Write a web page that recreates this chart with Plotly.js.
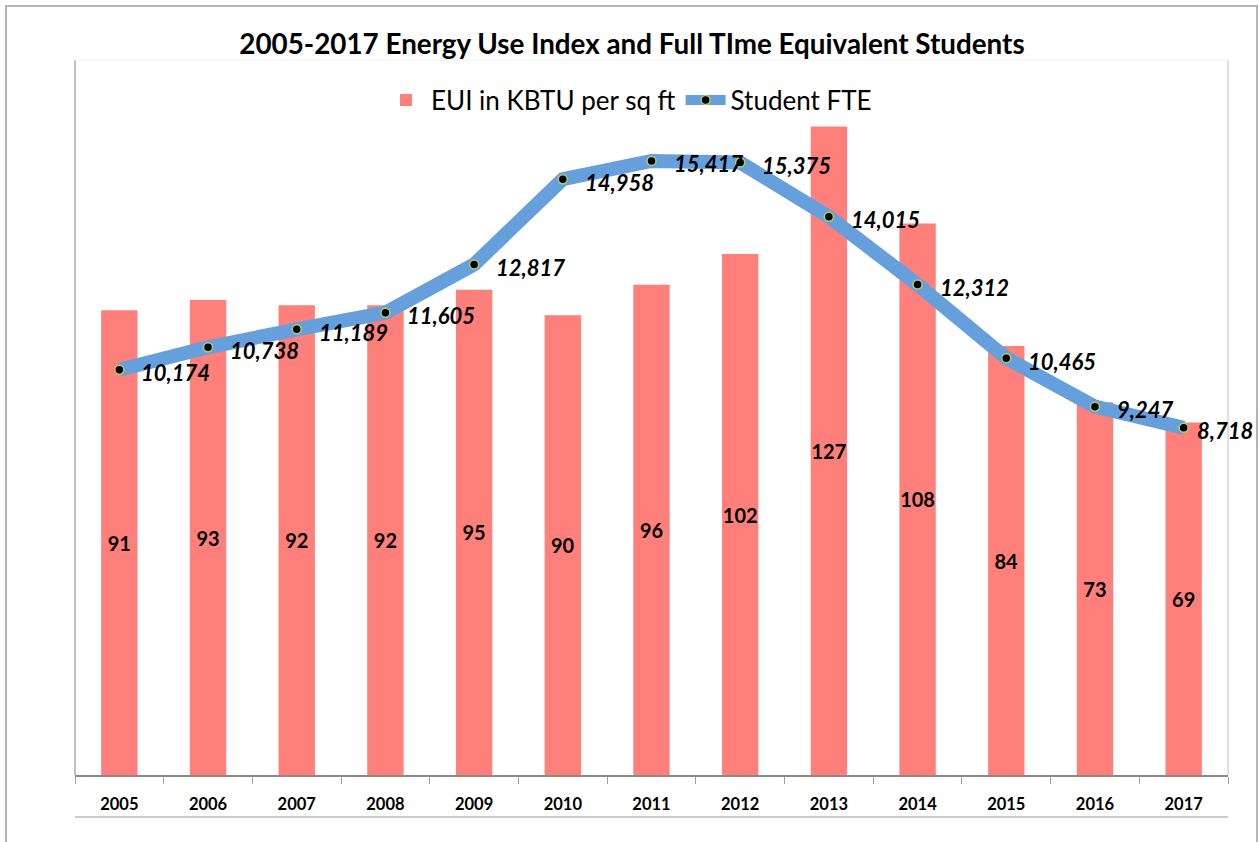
<!DOCTYPE html>
<html>
<head>
<meta charset="utf-8">
<script src="https://cdn.plot.ly/plotly-3.0.1.min.js"></script>
<style>
  html, body { margin: 0; padding: 0; background: #fff; }
  #wrap { position: relative; width: 1260px; height: 842px; overflow: hidden; }
  #chart { position: absolute; left: 0; top: 0; width: 1260px; height: 842px; }
  #frame { position: absolute; left: 5px; top: 5px; width: 1249px; height: 860px;
           border: 2px solid #b4b4b4; pointer-events: none; }
</style>
</head>
<body>
<div id="wrap">
  <div id="chart"></div>
  <div id="frame"></div>
</div>
<script>
const years = ['2005','2006','2007','2008','2009','2010','2011','2012','2013','2014','2015','2016','2017'];
const euiValues = [91, 93, 92, 92, 95, 90, 96, 102, 127, 108, 84, 73, 69];
const fteValues = [10174, 10738, 11189, 11605, 12817, 14958, 15417, 15375, 14015, 12312, 10465, 9247, 8718];
const euiName = 'EUI in KBTU per sq ft';
const fteName = 'Student FTE';
const chartTitle = '2005-2017 Energy Use Index and Full TIme Equivalent Students';

const FONT = 'Lato, "Open Sans", "Liberation Sans", sans-serif';

const bars = {
  type: 'bar',
  name: euiName,
  x: years,
  y: euiValues,
  width: 0.41,
  marker: { color: '#FF7F7B' },
  text: euiValues.map(String),
  textposition: 'inside',
  insidetextanchor: 'middle',
  textangle: 0,
  constraintext: 'none',
  textfont: { family: FONT, size: 20, color: '#000', weight: 'bold' },
  hoverinfo: 'skip'
};

const line = {
  type: 'scatter',
  mode: 'lines+markers',
  name: fteName,
  x: years,
  y: fteValues,
  yaxis: 'y2',
  line: { color: '#65A0DC', width: 14 },
  marker: { color: '#000', size: 9, line: { color: '#B8C96A', width: 1.5 } },
  hoverinfo: 'skip'
};

// annotation x given as category index (position of each year on the category axis)
const annotations = years.map((yr, i) => ({
  x: i,
  y: fteValues[i],
  xref: 'x',
  yref: 'y2',
  text: fteValues[i].toLocaleString('en-US'),
  showarrow: false,
  xanchor: 'left',
  yanchor: 'middle',
  xshift: i === years.length - 1 ? 11 : 20,
  yshift: -3,
  font: { family: FONT, size: 22, color: '#000', weight: 'bold', style: 'italic' }
}));

const layout = {
  width: 1260,
  height: 842,
  paper_bgcolor: '#fff',
  plot_bgcolor: '#fff',
  margin: { l: 75, r: 32, t: 60, b: 67 },
  showlegend: true,
  title: {
    text: '<b>' + chartTitle + '</b>',
    font: { family: FONT, size: 27.8, color: '#000' },
    xref: 'container', x: 0.5016, xanchor: 'center',
    yref: 'container', y: 1 - 44 / 842, yanchor: 'middle'
  },
  legend: {
    orientation: 'h',
    x: (629 - 75) / 1153, xanchor: 'center',
    y: (775 - 100) / 715, yanchor: 'middle',
    font: { family: FONT, size: 26, color: '#000' },
    bgcolor: 'rgba(0,0,0,0)',
    itemwidth: 40,
    traceorder: 'normal'
  },
  xaxis: {
    type: 'category',
    range: [-0.5, years.length - 0.5],
    autorange: false,
    showgrid: false,
    showline: true,
    linecolor: '#8a8a8a',
    linewidth: 2,
    ticks: 'outside',
    tickson: 'boundaries',
    ticklen: 7,
    tickcolor: '#a0a0a0',
    tickwidth: 1,
    tickangle: 0,
    ticklabelstandoff: 13,
    tickfont: { family: FONT, size: 16.5, color: '#000', weight: 'bold' },
    zeroline: false
  },
  yaxis: {
    range: [0, 140],
    visible: false,
    showgrid: false,
    zeroline: false
  },
  yaxis2: {
    range: [0, 17950],
    overlaying: 'y',
    side: 'right',
    visible: false,
    showgrid: false,
    zeroline: false
  },
  annotations: annotations,
  shapes: [
    { type: 'line', xref: 'paper', yref: 'paper', x0: 0, x1: 0, y0: 0, y1: 1,
      line: { color: '#c0c0c0', width: 2 } },
    { type: 'line', xref: 'paper', yref: 'paper', x0: 1, x1: 1, y0: 0, y1: 1,
      line: { color: '#d4d4d4', width: 1.5 } },
    { type: 'line', xref: 'paper', yref: 'paper', x0: 0, x1: 1, y0: 1, y1: 1,
      line: { color: '#f2f2f2', width: 1 } },
    { type: 'line', xref: 'paper', yref: 'paper', x0: 0, x1: 1,
      y0: (775 - 817) / 715, y1: (775 - 817) / 715,
      line: { color: '#b8b8b8', width: 1.5 } }
  ]
};

Plotly.newPlot('chart', [bars, line], layout, { displayModeBar: false, staticPlot: true });
</script>
</body>
</html>
